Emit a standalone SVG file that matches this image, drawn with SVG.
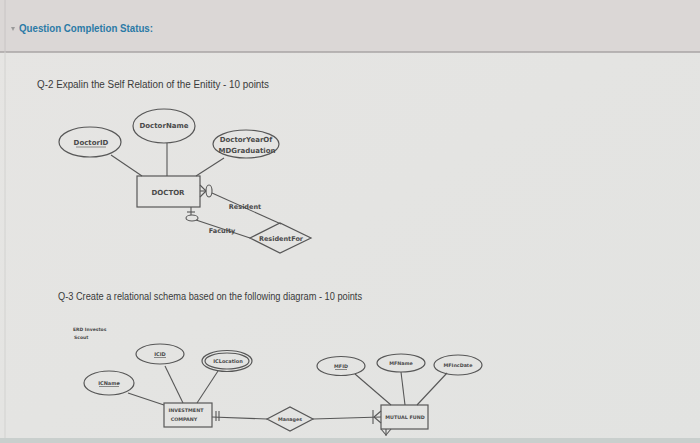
<svg xmlns="http://www.w3.org/2000/svg" width="700" height="443" viewBox="0 0 700 443">
<defs>
<style>
.shape{fill:none;stroke:#575757;stroke-width:1.2}
.line{fill:none;stroke:#575757;stroke-width:1.1}
.lbl{font-family:"DejaVu Sans",Verdana,sans-serif;font-weight:bold;fill:#4a4a4a;text-anchor:middle}
.q{font-family:"Liberation Sans",Arial,sans-serif;fill:#3a3a3a;font-size:10px}
.ul{stroke:#4a4a4a;stroke-width:0.6}
</style>
<linearGradient id="bg" x1="0" y1="0" x2="1" y2="1">
<stop offset="0" stop-color="#e6e5e3"/>
<stop offset="1" stop-color="#e2e3e1"/>
</linearGradient>
</defs>
<rect x="0" y="0" width="700" height="443" fill="url(#bg)"/>
<!-- header -->
<rect x="0" y="0" width="700" height="52" fill="#dbd7d6"/>
<line x1="0" y1="52" x2="700" y2="52" stroke="#a9a5a5" stroke-width="1.5"/>
<line x1="5" y1="0" x2="5" y2="52" stroke="#c8c4c4" stroke-width="1"/>
<polygon points="11,27 15,27 13,31" fill="#9a9a9a"/>
<text x="19" y="32" font-family="Liberation Sans,Arial,sans-serif" font-weight="bold" font-size="10.5" fill="#2b7aa6" textLength="134" lengthAdjust="spacingAndGlyphs">Question Completion Status:</text>
<line x1="5" y1="52" x2="5" y2="443" stroke="#d2d2d0" stroke-width="1"/>
<!-- questions -->
<text class="q" x="37" y="88" textLength="232" lengthAdjust="spacingAndGlyphs">Q-2 Expalin the Self Relation of the Enitity - 10 points</text>
<text class="q" x="58" y="300" textLength="304" lengthAdjust="spacingAndGlyphs">Q-3 Create a relational schema based on the following diagram - 10 points</text>
<text class="lbl" x="73" y="331" font-size="4.5" font-weight="normal" style="text-anchor:start">ERD Investos</text>
<text class="lbl" x="74" y="339" font-size="4.5" font-weight="normal" style="text-anchor:start">Scout</text>

<!-- connectors -->
<g id="connectors">
<line class="line" x1="111" y1="155" x2="142" y2="176"/>
<line class="line" x1="167" y1="143" x2="167" y2="176"/>
<line class="line" x1="224" y1="158" x2="196" y2="176"/>
<!-- resident crow's foot + zero -->
<line class="line" x1="200" y1="185" x2="206" y2="191"/>
<line class="line" x1="200" y1="191" x2="206" y2="191"/>
<line class="line" x1="200" y1="197" x2="206" y2="191"/>
<ellipse class="line" cx="209" cy="191" rx="3" ry="6"/>
<line class="line" x1="212" y1="193" x2="281" y2="224"/>
<!-- faculty one + zero -->
<line class="line" x1="191" y1="207" x2="191" y2="215"/>
<line class="line" x1="187" y1="212" x2="195" y2="212"/>
<ellipse class="line" cx="192" cy="218" rx="6" ry="3"/>
<line class="line" x1="196" y1="220" x2="250" y2="238"/>
<!-- investment company -->
<line class="line" x1="128" y1="393" x2="164" y2="405"/>
<line class="line" x1="165" y1="366" x2="183" y2="403"/>
<line class="line" x1="218" y1="371" x2="197" y2="403"/>
<line class="line" x1="212" y1="417" x2="267" y2="419"/>
<line class="line" x1="216" y1="411" x2="216" y2="421"/>
<line class="line" x1="219" y1="411" x2="219" y2="421"/>
<line class="line" x1="313" y1="419" x2="381" y2="417"/>
<!-- mutual fund -->
<line class="line" x1="355" y1="374" x2="391" y2="405"/>
<line class="line" x1="401" y1="372" x2="405" y2="405"/>
<line class="line" x1="447" y1="373" x2="417" y2="405"/>
<line class="line" x1="373" y1="410" x2="373" y2="424"/>
<line class="line" x1="374" y1="417" x2="381" y2="411"/>
<line class="line" x1="374" y1="417" x2="381" y2="423"/>
<line class="line" x1="381" y1="429" x2="386" y2="435"/>
<line class="line" x1="391" y1="429" x2="386" y2="435"/>
<line class="line" x1="386" y1="429" x2="386" y2="436"/>
</g>

<!-- Q2 nodes -->
<g id="DoctorID">
<ellipse class="shape" cx="90" cy="142" rx="31" ry="15"/>
<text class="lbl" x="91" y="145" font-size="7">DoctorID</text>
<line class="ul" x1="76" y1="147" x2="106" y2="147"/>
</g>
<g id="DoctorName">
<ellipse class="shape" cx="164" cy="126" rx="31" ry="17"/>
<text class="lbl" x="164" y="128" font-size="7">DoctorName</text>
</g>
<g id="DoctorYearOfMDGraduation">
<ellipse class="shape" cx="246" cy="144" rx="33" ry="14"/>
<text class="lbl" x="246" y="142" font-size="7">DoctorYearOf</text>
<text class="lbl" x="247" y="153" font-size="7">MDGraduation</text>
</g>
<g id="DOCTOR">
<rect class="shape" x="137" y="176" width="63" height="31"/>
<text class="lbl" x="168" y="195" font-size="7">DOCTOR</text>
</g>
<g id="ResidentFor">
<polygon class="shape" points="250,238 280,223 311,238 280,253"/>
<text class="lbl" x="281" y="241" font-size="6.5">ResidentFor</text>
</g>
<text class="lbl" x="245" y="209" font-size="6.5">Resident</text>
<text class="lbl" x="222" y="233" font-size="6.5">Faculty</text>

<!-- Q3 nodes -->
<g id="ICID">
<ellipse class="shape" cx="160" cy="354" rx="24" ry="10"/>
<text class="lbl" x="160" y="356" font-size="5" font-weight="normal">ICID</text>
<line class="ul" x1="154" y1="357.5" x2="166" y2="357.5"/>
</g>
<g id="ICLocation">
<ellipse class="shape" cx="227" cy="361" rx="25" ry="10.5"/>
<ellipse class="shape" cx="227" cy="361" rx="22" ry="8" stroke-width="0.9"/>
<text class="lbl" x="228" y="363" font-size="5" font-weight="normal">ICLocation</text>
</g>
<g id="ICName">
<ellipse class="shape" cx="109" cy="383" rx="25" ry="12"/>
<text class="lbl" x="109" y="385" font-size="5" font-weight="normal">ICName</text>
<line class="ul" x1="99" y1="386.5" x2="119" y2="386.5"/>
</g>
<g id="INVESTMENT_COMPANY">
<rect class="shape" x="164" y="403" width="48" height="24"/>
<text class="lbl" x="186" y="412" font-size="4.8" font-weight="normal">INVESTMENT</text>
<text class="lbl" x="184" y="421" font-size="4.8" font-weight="normal">COMPANY</text>
</g>
<g id="Manages">
<polygon class="shape" points="267,419 290,407 313,419 290,431"/>
<text class="lbl" x="290" y="421" font-size="4.8" font-weight="normal">Manages</text>
</g>
<g id="MFID">
<ellipse class="shape" cx="341" cy="366" rx="24" ry="9.5"/>
<text class="lbl" x="341" y="368" font-size="4.8" font-weight="normal">MFID</text>
<line class="ul" x1="335" y1="369.5" x2="347" y2="369.5"/>
</g>
<g id="MFName">
<ellipse class="shape" cx="401" cy="363" rx="24" ry="9"/>
<text class="lbl" x="401" y="365" font-size="4.8" font-weight="normal">MFName</text>
</g>
<g id="MFIncDate">
<ellipse class="shape" cx="458" cy="365" rx="24" ry="10"/>
<text class="lbl" x="458" y="367" font-size="4.8" font-weight="normal">MFIncDate</text>
</g>
<g id="MUTUAL_FUND">
<rect class="shape" x="381" y="405" width="47" height="24"/>
<text class="lbl" x="405" y="419" font-size="4.8" font-weight="normal">MUTUAL FUND</text>
</g>
<rect x="0" y="438" width="700" height="5" fill="#c9cfcd"/>
</svg>
